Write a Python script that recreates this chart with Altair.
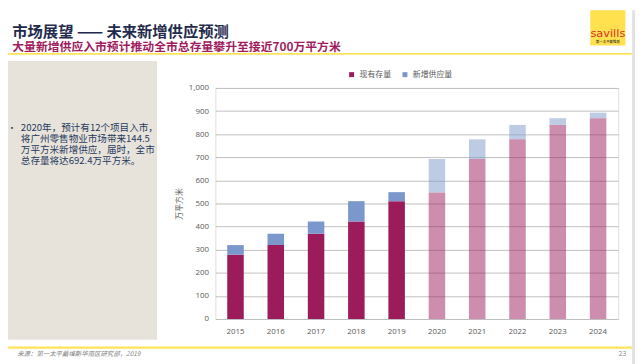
import altair as alt
import pandas as pd

years = ["2015", "2016", "2017", "2018", "2019", "2020", "2021", "2022", "2023", "2024"]
existing = [278, 320, 369, 422, 510, 547.9, 692.4, 778, 840, 869]
new_supply = [42, 49, 53, 88, 39, 144.5, 85, 62, 29, 24]
is_forecast = [False, False, False, False, False, True, True, True, True, True]
series = ["现有存量", "新增供应量"]

title_text = "市场展望 —— 未来新增供应预测"
subtitle_text = "大量新增供应入市预计推动全市总存量攀升至接近700万平方米"
bullet_lines = ["2020年，预计有12个项目入市，", "将广州零售物业市场带来144.5",
                "万平方米新增供应，届时，全市", "总存量将达692.4万平方米。"]
source_text = "来源：第一太平戴维斯华南区研究部，2019"
page_no = "23"
y_title = "万平方米"

rows = []
for i, yr in enumerate(years):
    rows.append({"year": yr, "series": series[0], "ord": 0, "value": existing[i],
                 "phase": "forecast" if is_forecast[i] else "actual"})
    rows.append({"year": yr, "series": series[1], "ord": 1, "value": new_supply[i],
                 "phase": "forecast" if is_forecast[i] else "actual"})
df = pd.DataFrame(rows)

CJK = "Noto Sans CJK SC"
LAT = "Open Sans"

bars = alt.Chart(df).mark_bar().encode(
    x=alt.X("year:N", sort=years, title=None,
            scale=alt.Scale(paddingInner=0.59, paddingOuter=0.295),
            axis=alt.Axis(labelAngle=0, domain=False, ticks=False, labelPadding=9,
                          labelFontSize=8, labelFont=LAT, labelColor="#595959", grid=False)),
    y=alt.Y("value:Q", stack="zero",
            scale=alt.Scale(domain=[0, 1000], nice=False),
            axis=alt.Axis(values=list(range(0, 1001, 100)), format=",.0f", grid=True,
                          gridColor="#BFBFBF", gridWidth=1, domain=False, ticks=False,
                          labelPadding=7, labelFontSize=8, labelFont=LAT, labelColor="#595959",
                          title=y_title, titleFont=CJK, titleFontSize=8, titleFontWeight="normal",
                          titleColor="#595959", titleX=-36.3, titleY=117, titleAngle=-90,
                          titleAlign="center", titleBaseline="middle")),
    color=alt.Color("series:N", sort=series,
                    scale=alt.Scale(domain=series, range=["#9C1C5B", "#7B97CB"]),
                    legend=alt.Legend(title=None, orient="none", direction="horizontal",
                                      legendX=134, legendY=-17.5, symbolType="square",
                                      symbolSize=25, symbolStrokeWidth=0, labelFontSize=8,
                                      labelFont=CJK, labelColor="#595959", labelOffset=4,
                                      columnPadding=10, padding=0)),
    opacity=alt.Opacity("phase:N", scale=alt.Scale(domain=["actual", "forecast"], range=[1, 0.5]),
                        legend=None),
    order=alt.Order("ord:Q", sort="ascending"),
)

base = alt.Chart(pd.DataFrame({"k": [0]}))

panel = base.mark_rect(color="#E8E3DA").encode(
    x=alt.value(-210), x2=alt.value(-59), y=alt.value(-27.4), y2=alt.value(255))
frame = base.mark_rect(color="#E3E3E3").encode(
    x=alt.value(422), x2=alt.value(425), y=alt.value(-78.7), y2=alt.value(280))
yellow_top = base.mark_rule(color="#FFE45A", strokeWidth=2).encode(
    x=alt.value(-210), x2=alt.value(422), y=alt.value(-34.5))
yellow_bot = base.mark_rule(color="#FFE45A", strokeWidth=2.5).encode(
    x=alt.value(-210), x2=alt.value(422), y=alt.value(263))
title = base.mark_text(align="left", baseline="alphabetic", font=CJK, fontSize=15.5,
                       fontWeight="bold", color="#1F2B4D").encode(
    x=alt.value(-205.7), y=alt.value(-52), text=alt.value(title_text))
subtitle = base.mark_text(align="left", baseline="alphabetic", font=CJK, fontSize=12,
                          fontWeight="bold", color="#A01C5E").encode(
    x=alt.value(-205.7), y=alt.value(-37.5), text=alt.value(subtitle_text))
bullet = base.mark_text(align="center", baseline="middle", font=CJK, fontSize=9,
                        color="#1F3A5F").encode(
    x=alt.value(-206), y=alt.value(41), text=alt.value("•"))
body = base.mark_text(align="left", baseline="top", font=CJK, fontSize=9.7, lineHeight=11,
                      color="#1F3A5F").encode(
    x=alt.value(-197), y=alt.value(35.6), text=alt.value(bullet_lines))
source = base.mark_text(align="left", baseline="middle", font=CJK, fontSize=6.5,
                        fontStyle="italic", color="#7F7F7F").encode(
    x=alt.value(-200.7), y=alt.value(269), text=alt.value(source_text))
page = base.mark_text(align="right", baseline="middle", font=LAT, fontSize=6.5,
                      color="#7F7F7F").encode(
    x=alt.value(416), y=alt.value(269), text=alt.value(page_no))
logo = base.mark_rect(color="#FFE04F").encode(
    x=alt.value(379.7), x2=alt.value(415.3), y=alt.value(-78.7), y2=alt.value(-43))
logo_txt = base.mark_text(align="center", baseline="alphabetic", font="DejaVu Sans",
                          fontSize=11.5, color="#D9342B").encode(
    x=alt.value(397.5), y=alt.value(-51.5), text=alt.value("savills"))
logo_sub = base.mark_text(align="center", baseline="middle", font=CJK, fontSize=3.5,
                          color="#222222").encode(
    x=alt.value(397.5), y=alt.value(-46.3), text=alt.value("第一太平戴维斯"))

chart = alt.layer(
    panel, frame, yellow_top, yellow_bot, title, subtitle, bullet, body, source, page,
    logo, logo_txt, logo_sub, bars
).properties(
    width=408, height=234,
    autosize=alt.AutoSizeParams(type="none"),
    padding={"left": 210, "top": 78.7, "right": 17, "bottom": 43.3},
).configure_view(stroke=None).configure(background="#FFFFFF")

chart.save("out.html", embed_options={"renderer": "svg", "actions": False})
